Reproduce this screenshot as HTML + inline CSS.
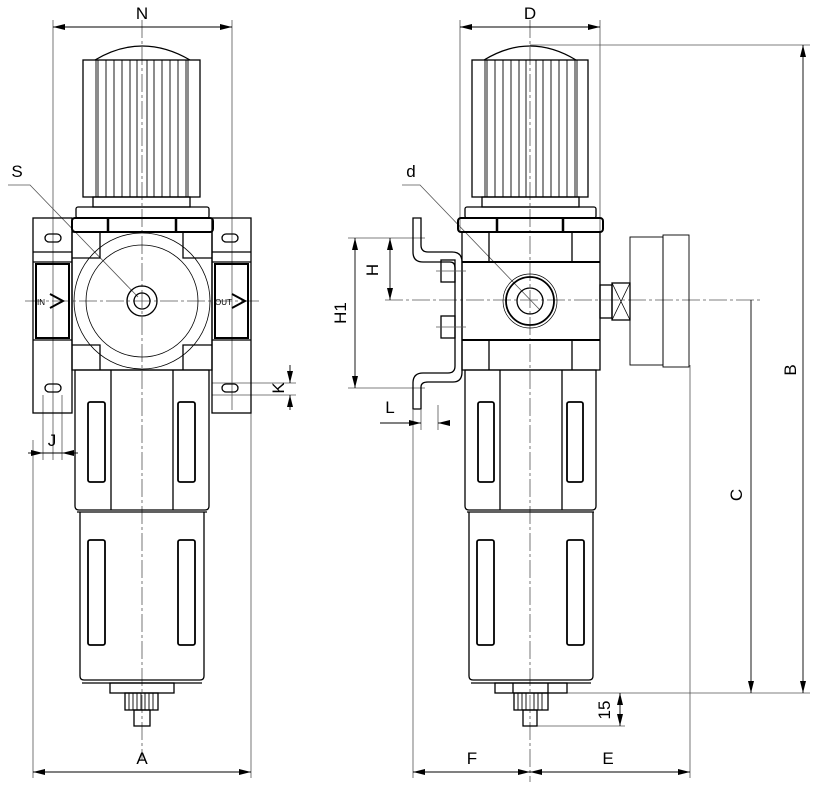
<!DOCTYPE html>
<html><head><meta charset="utf-8"><style>html,body{margin:0;padding:0;background:#fff}svg{display:block}</style></head><body>
<svg width="818" height="785" viewBox="0 0 818 785" xmlns="http://www.w3.org/2000/svg" font-family="Liberation Sans, sans-serif">
<defs>
<marker id="a" viewBox="0 0 12 6" refX="12" refY="3" markerWidth="12" markerHeight="6" orient="auto-start-reverse" markerUnits="userSpaceOnUse"><path d="M0,0 L12,3 L0,6z" fill="#000"/></marker>
</defs>
<g fill="none" stroke="#555" stroke-width="0.8">
<path d="M142,20 V760 M25,301 H262 M530,20 V782 M385,300 H760" stroke-dasharray="18,3,3,3"/>
<path d="M53,20 V460 M232,20 V410 M33,440 V778 M251,410 V778 M212,383 H296 M212,395 H296 M43,395 V460 M62,395 V460"/>
<path d="M460,20 V232 M600,20 V232 M530,45 H810 M560,693 H810 M537,726 H625 M413,410 V778 M690,365 V778 M348,238 H425 M348,388 H425 M421,410 V430 M438,405 V430"/>
<path d="M8,185 H30 L138,297 M402,185 H420 L540,310"/>
</g>
<g fill="none" stroke="#000" stroke-width="0.9">
<path d="M53,27 H232" marker-start="url(#a)" marker-end="url(#a)"/>
<path d="M460,27 H600" marker-start="url(#a)" marker-end="url(#a)"/>
<path d="M33,772 H251" marker-start="url(#a)" marker-end="url(#a)"/>
<path d="M413,772 H530" marker-start="url(#a)" marker-end="url(#a)"/>
<path d="M530,772 H690" marker-start="url(#a)" marker-end="url(#a)"/>
<path d="M803,45 V693" marker-start="url(#a)" marker-end="url(#a)"/>
<path d="M751,300 V693" marker-end="url(#a)"/>
<path d="M355,238 V388" marker-start="url(#a)" marker-end="url(#a)"/>
<path d="M390,238 V300" marker-start="url(#a)" marker-end="url(#a)"/>
<path d="M290,365 V383" marker-end="url(#a)"/><path d="M290,410 V395" marker-end="url(#a)"/>
<path d="M620,693 V726" marker-start="url(#a)" marker-end="url(#a)"/>
<path d="M28,453 H43" marker-end="url(#a)"/><path d="M78,453 H62" marker-end="url(#a)"/><path d="M43,453 H62"/>
<path d="M380,423 H421" marker-end="url(#a)"/><path d="M445,423 H438" marker-end="url(#a)"/>
</g>
<g font-size="17" fill="#000" text-anchor="middle">
<text x="142" y="19">N</text><text x="530" y="19">D</text><text x="142" y="764">A</text>
<text x="472" y="764">F</text><text x="608" y="764">E</text>
<text x="17" y="177">S</text><text x="411" y="177">d</text>
<text x="52" y="446">J</text><text x="390" y="413">L</text>
<text transform="translate(284,388) rotate(-90)">K</text>
<text transform="translate(796,370) rotate(-90)">B</text>
<text transform="translate(742,495) rotate(-90)">C</text>
<text transform="translate(378,270) rotate(-90)">H</text>
<text transform="translate(346,313) rotate(-90)">H1</text>
<text transform="translate(610,710) rotate(-90)">15</text>
</g>
<g fill="none" stroke="#000" stroke-width="1.3">
<path d="M95,60 Q142,32 190,60"/>
<rect x="83" y="60" width="117" height="137"/>
<path d="M96,60V197 M98,60V197 M106,60V197 M114,60V197 M122,60V197 M130,60V197 M137,60V197 M147,60V197 M154,60V197 M162,60V197 M170,60V197 M178,60V197 M186,60V197 M188,60V197" stroke-width="0.9"/>
<rect x="93" y="197" width="97" height="10"/>
<rect x="76" y="207" width="133" height="11" rx="2"/>
<rect x="72" y="218" width="141" height="14" rx="3" stroke-width="2"/>
<path d="M108,218V232 M176,218V232" stroke-width="2.5"/>
<rect x="33" y="218" width="39" height="195"/>
<rect x="212" y="218" width="39" height="195"/>
<path d="M33,252H72 M33,262H72 M33,340H72 M212,252H251 M212,262H251 M212,340H251"/>
<rect x="36" y="264" width="33" height="74" stroke-width="2"/>
<rect x="215" y="264" width="33" height="74" stroke-width="2"/>
<rect x="45" y="234" width="16" height="8" rx="4"/><rect x="222" y="234" width="16" height="8" rx="4"/>
<rect x="45" y="384" width="16" height="8" rx="4"/><rect x="222" y="384" width="16" height="8" rx="4"/>
<path d="M72,232H212V370H72Z M100,232V258H72 M183,232V258H212 M100,370V345H72 M183,370V345H212"/>
<circle cx="142" cy="301" r="68" stroke-width="0.8"/>
<circle cx="142" cy="301" r="56" stroke-width="0.8"/>
<circle cx="142" cy="301" r="15"/><circle cx="142" cy="301" r="8"/>
<path d="M50,294 L63,301 L50,308 M232,294 L245,301 L232,308" stroke-width="2"/>
<path d="M75,370H209V506Q209,510 205,510H79Q75,510 75,506Z"/>
<path d="M111,370V510 M173,370V510"/>
<rect x="88" y="402" width="17" height="80" rx="2" stroke-width="1.8"/>
<rect x="178" y="402" width="17" height="80" rx="2" stroke-width="1.8"/>
<path d="M77,512H207 M80,512V676Q80,680 84,680H200Q204,680 204,676V512"/>
<rect x="88" y="540" width="17" height="105" rx="2" stroke-width="1.8"/>
<rect x="178" y="540" width="17" height="105" rx="2" stroke-width="1.8"/>
<path d="M82,683H202"/>
<rect x="110" y="683" width="64" height="10"/>
<rect x="125" y="693" width="33" height="17"/>
<path d="M129,693V710 M133,693V710 M137,693V710 M141,693V710 M145,693V710 M149,693V710 M153,693V710" stroke-width="0.9"/>
<rect x="134" y="710" width="16" height="16"/>
<path d="M484,60 Q530,32 576,60"/>
<rect x="472" y="60" width="116" height="137"/>
<path d="M485,60V197 M487,60V197 M495,60V197 M503,60V197 M511,60V197 M519,60V197 M526,60V197 M536,60V197 M543,60V197 M551,60V197 M559,60V197 M567,60V197 M575,60V197 M577,60V197" stroke-width="0.9"/>
<rect x="482" y="197" width="97" height="10"/>
<rect x="465" y="207" width="131" height="11" rx="2"/>
<rect x="458" y="218" width="145" height="14" rx="3" stroke-width="2"/>
<path d="M497,218V232 M563,218V232" stroke-width="2.5"/>
<path d="M462,232H600V370H462Z M489,232V262 M572,232V262 M489,340V370 M572,340V370"/>
<path d="M462,262H600 M462,340H600" stroke-width="2"/>
<circle cx="530" cy="301" r="27" stroke-width="0.7"/>
<circle cx="530" cy="301" r="24" stroke-width="1.8"/>
<circle cx="530" cy="301" r="13"/>
<path d="M413,218V252 Q413,262 423,262H450Q455,262 455,268V366Q455,373 448,373H423Q413,373 413,383V409H421V387Q421,382 428,382H453Q462,382 462,372V262Q462,252 452,252H428Q421,252 421,245V218Z"/>
<rect x="441" y="260" width="14" height="22"/><rect x="441" y="316" width="14" height="22"/>
<path d="M436,271H466 M436,327H466" stroke="#555" stroke-width="0.7"/>
<rect x="600" y="285" width="12" height="33"/>
<rect x="612" y="283" width="18" height="37"/>
<path d="M612,283L630,320 M630,283L612,320" stroke-width="0.8"/>
<rect x="630" y="237" width="33" height="128" stroke-width="0.9"/>
<rect x="663" y="235" width="26" height="132" stroke-width="0.9"/>
<path d="M465,370H596V506Q596,510 592,510H469Q465,510 465,506Z"/>
<path d="M500,370V510 M562,370V510"/>
<rect x="478" y="402" width="16" height="80" rx="2" stroke-width="1.8"/>
<rect x="567" y="402" width="16" height="80" rx="2" stroke-width="1.8"/>
<path d="M467,512H594 M469,512V676Q469,680 473,680H589Q593,680 593,676V512"/>
<rect x="477" y="540" width="17" height="105" rx="2" stroke-width="1.8"/>
<rect x="567" y="540" width="17" height="105" rx="2" stroke-width="1.8"/>
<path d="M471,683H591"/>
<rect x="495" y="683" width="72" height="10"/>
<path d="M513,683V693 M548,683V693"/>
<rect x="514" y="693" width="34" height="17"/>
<path d="M518,693V710 M522,693V710 M526,693V710 M534,693V710 M538,693V710 M542,693V710" stroke-width="0.9"/>
<rect x="523" y="710" width="14" height="16"/>
</g>
<g font-size="8" fill="#000"><text x="37" y="305">IN</text><text x="215" y="305">OUT</text></g>
</svg>
</body></html>
